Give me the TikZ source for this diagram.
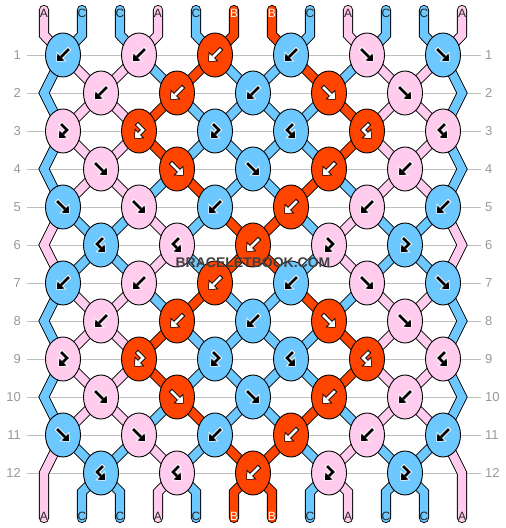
\documentclass[tikz,border=0pt]{standalone}
\usepackage{fontspec}
\setmainfont{Liberation Sans}
\usetikzlibrary{arrows.meta}
\usetikzlibrary{shapes.geometric}
\usetikzlibrary{backgrounds}

\definecolor{colA}{HTML}{FFCCEE}
\definecolor{colB}{HTML}{FF4400}
\definecolor{colC}{HTML}{6DC8FF}
\colorlet{inkA}{black}
\colorlet{inkB}{white}
\colorlet{inkC}{black}
\colorlet{haloA}{white}
\colorlet{haloB}{black}
\colorlet{haloC}{white}
\colorlet{txtA}{black!85}
\colorlet{txtB}{white}
\colorlet{txtC}{black!85}

\tikzset{
  knot/.style={ellipse, draw, line width=0.9pt, fill=col#1,
               minimum width=35pt, minimum height=44pt, inner sep=0pt},
  strand/.style={draw=black, line width=0.9pt, double=col#1,
                 double distance=8.4pt, line cap=round},
  glyph/.style={draw=ink#1, line width=2.5pt,
                -{Triangle[length=5.5pt 0 0, width=10pt 0 0, line width=0pt 0 0]}},
  halo/.style={draw=halo#1, line width=4.5pt, shorten <=-1pt, shorten >=-1pt,
               -{Triangle[length=7.5pt 0 0, width=14pt 0 0, line width=0pt 0 0]}},
  rowlab/.style={text=black!40, inner sep=1pt, font=\fontsize{13}{13}\selectfont},
  strlab/.style={text=txt#1, inner sep=0pt, font=\fontsize{12}{12}\selectfont},
  rowline/.style={draw=black!25, line width=0.8pt},
  wm/.style={inner sep=0pt, text=black!75, font=\bfseries\fontsize{14}{14}\selectfont},
}

% knot colour / glyph / colour leaving left / colour leaving right
\def\knotsI{C/B/C/A, A/B/A/C, B/B/B/C, C/B/C/B, A/F/C/A, C/F/A/C}
\def\knotsII{A/B/A/A, B/B/B/C, C/B/C/C, B/F/C/B, A/F/A/A}
\def\knotsIII{A/L/C/A, B/L/A/B, C/L/C/C, C/R/C/C, B/R/B/A, A/R/A/C}
\def\knotsIV{A/F/A/A, B/F/C/B, C/F/C/C, B/B/B/C, A/B/A/A}
\def\knotsV{C/F/A/C, A/F/C/A, C/B/C/B, B/B/B/C, A/B/A/C, C/B/C/A}
\def\knotsVI{C/R/C/C, A/R/A/C, B/B/B/B, A/L/C/A, C/L/C/C}

% glyphs inside the knots
\def\glyphF{(-6,-6) -- (6,6)}
\def\glyphB{(6,-6) -- (-6,6)}
\def\glyphL{(-2,-7) -- (4,-1) -- (-4,7)}
\def\glyphR{(2,-7) -- (-4,-1) -- (4,7)}

\begin{document}
\begin{tikzpicture}[x=1pt, y=-1pt]
  \useasboundingbox (0,0) rectangle (506,528);

  % row numbers
  \foreach \r in {1,...,12} {
    \node[rowlab, anchor=east] (ll\r) at (22, 17+38*\r) {\r};
    \node[rowlab, anchor=west] (rl\r) at (484, 17+38*\r) {\r};
  }

  % knots
  \foreach \r/\p in {1/I,2/II,3/III,4/IV,5/V,6/VI,7/I,8/II,9/III,10/IV,11/V,12/VI} {
    \expandafter\let\expandafter\lst\csname knots\p\endcsname
    \foreach \kc/\g/\lo/\ro [count=\c] in \lst {
      \pgfmathtruncatemacro\s{2*\c-mod(\r,2)}
      \node[knot=\kc] (k\r-\c) at (25+38*\s, 17+38*\r) {};
      \expandafter\let\expandafter\gp\csname glyph\g\endcsname
      \begin{scope}[shift={(k\r-\c.center)}]
        \draw[halo=\kc] \gp;
        \draw[glyph=\kc] \gp;
      \end{scope}
    }
  }

  % string ends
  \foreach \sc [count=\i from 0] in {A,C,C,A,C,B,B,C,A,C,C,A} {
    \coordinate (t\i) at (44+38*\i, 10);
    \coordinate (b\i) at (44+38*\i, 518);
    \node[strlab=\sc, yshift=-3pt] (tl\i) at (t\i) {\sc};
    \node[strlab=\sc, yshift=2pt] (bl\i) at (b\i) {\sc};
  }

  % watermark
  \node[wm] (wm) at (253,263) {BRACELETBOOK.COM};

  \begin{scope}[on background layer]
    \foreach \r in {1,...,12}
      \draw[rowline] ([xshift=5pt]ll\r.east) -- ([xshift=-3pt]rl\r.west);

    % strands from the top
    \foreach \sc [count=\i from 0] in {A,C,C,A,C,B,B,C,A,C,C,A} {
      \pgfmathtruncatemacro\c{floor(\i/2)+1}
      \draw[strand=\sc] (t\i) -- ++(0,25) -- (k1-\c.center);
    }

    % strands between knots
    \foreach \r/\p in {1/I,2/II,3/III,4/IV,5/V,6/VI,7/I,8/II,9/III,10/IV,11/V,12/VI} {
      \expandafter\let\expandafter\lst\csname knots\p\endcsname
      \foreach \kc/\g/\lo/\ro [count=\c] in \lst {
        \pgfmathtruncatemacro\s{2*\c-mod(\r,2)}
        \pgfmathtruncatemacro\n{\r+1}
        \pgfmathtruncatemacro\nn{\r+2}
        \pgfmathtruncatemacro\ca{floor(\s/2)}
        \pgfmathtruncatemacro\cb{floor(\s/2)+1}
        \pgfmathtruncatemacro\pl{\s-1}
        % left
        \ifnum\r=12
          \draw[strand=\lo] (k\r-\c.center) -- ++(-19,19) -- (b\pl);
        \else\ifnum\s=1
          \ifnum\r=11
            \draw[strand=\lo] (k\r-\c.center) -- ++(-19,38) -- (b0);
          \else
            \draw[strand=\lo] (k\r-\c.center) -- ++(-19,38) -- (k\nn-1.center);
          \fi
        \else
          \draw[strand=\lo] (k\r-\c.center) -- (k\n-\ca.center);
        \fi\fi
        % right
        \ifnum\r=12
          \draw[strand=\ro] (k\r-\c.center) -- ++(19,19) -- (b\s);
        \else\ifnum\s=11
          \ifnum\r=11
            \draw[strand=\ro] (k\r-\c.center) -- ++(19,38) -- (b11);
          \else
            \draw[strand=\ro] (k\r-\c.center) -- ++(19,38) -- (k\nn-6.center);
          \fi
        \else
          \draw[strand=\ro] (k\r-\c.center) -- (k\n-\cb.center);
        \fi\fi
      }
    }
  \end{scope}
\end{tikzpicture}
\end{document}
